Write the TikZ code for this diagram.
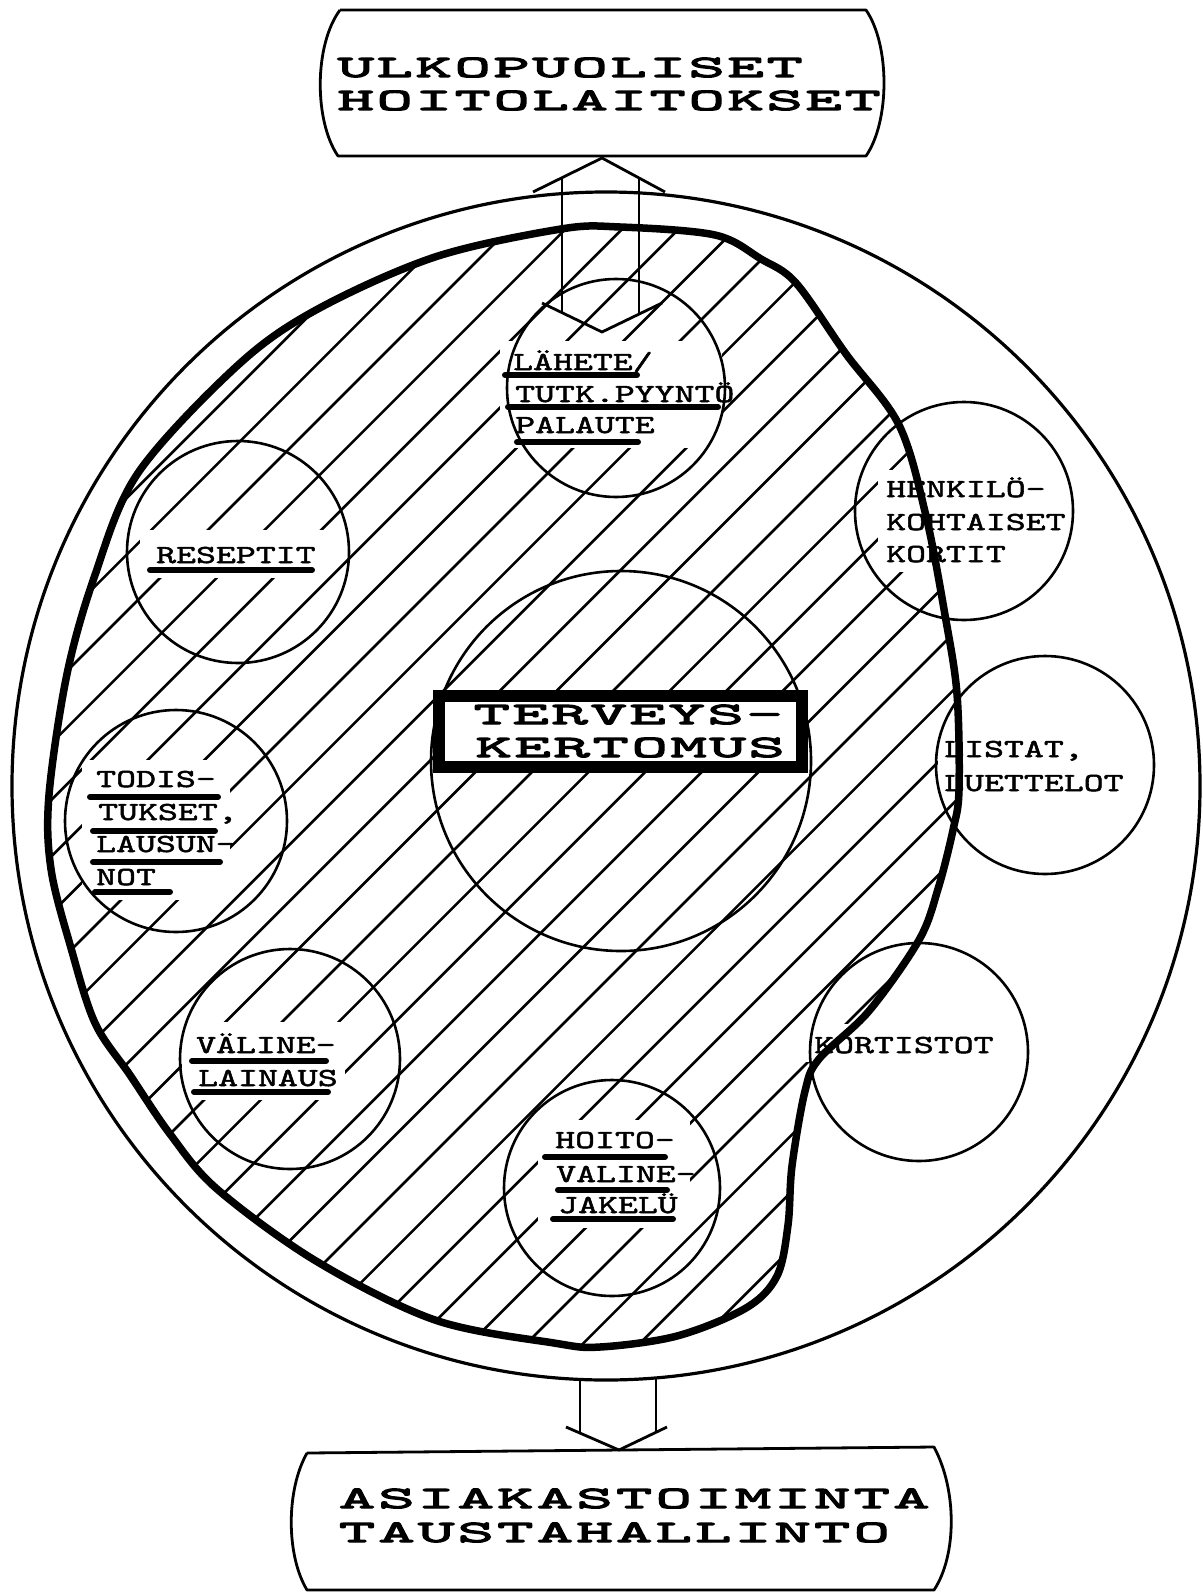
\documentclass[tikz,border=0pt]{standalone}
\usepackage{fontspec}
\newfontfamily\lblfont{lmmono10-regular}[Extension=.otf,FakeStretch=1.46,FakeBold=2]
\newfontfamily\ttlfont{lmmono10-regular}[Extension=.otf,FakeStretch=2.25,FakeBold=4]
\ExplSyntaxOn
\NewDocumentCommand\spread{mm}{\tl_map_inline:nn{#2}{\makebox[#1][c]{##1}}}
\ExplSyntaxOff
\begin{document}
\begin{tikzpicture}[x=1pt,y=-1pt,
  thinline/.style={line width=2.8pt},
  hatch/.style={line width=2.6pt},
  smallcirc/.style={circle,draw,line width=2.6pt,inner sep=0pt},
  bigcirc/.style={circle,draw,line width=3.2pt,inner sep=0pt},
  lbl/.style={font=\lblfont\fontsize{26}{32}\selectfont,inner sep=0pt,anchor=base west},
  ttl/.style={font=\ttlfont\fontsize{31}{33}\selectfont,inner sep=0pt,anchor=base west},
  uline/.style={line width=6pt,line cap=round},
  blobline/.style={line width=7.5pt,line join=round},
  paste/.style={fill=white}]
\useasboundingbox (0,0) rectangle (1202,1592);
\fill[white] (0,0) rectangle (1202,1592);

% outer circle
\node[bigcirc,minimum size=1188pt] (world) at (606,786) {};

% hatching inside the blob
\begin{scope}
\clip plot[smooth cycle,tension=0.55] coordinates {(49,795) (67,674) (95,575) (138,473) (237,366) (316,310) (435,257) (561,229) (620,227) (715,235) (761,259) (796,283) (846,354) (899,425) (926,516) (945,615) (957,694) (959,790) (953,830) (938,889) (919,940) (869,1011) (819,1059) (805,1091) (792,1166) (788,1225) (777,1276) (746,1308) (677,1336) (600,1347) (554,1343) (435,1320) (316,1261) (217,1189) (170,1134) (130,1075) (95,1023) (71,948) (51,869)};
\foreach \k in {-19,...,10}{
  \pgfmathsetmacro\cc{1587+56.6*\k}
  \draw[hatch] (\cc-1600,1600) -- (\cc+100,-100);
}
\end{scope}

% white paste-up areas behind labels
\fill[paste] (500,341) rectangle (722,448);
\fill[paste] (140,530) rectangle (326,578);
\fill[paste] (82,760) rectangle (230,900);
\fill[paste] (182,1022) rectangle (345,1100);
\fill[paste] (538,1120) rectangle (690,1228);
\fill[paste] (878,470) rectangle (1070,572);
\fill[paste] (938,732) rectangle (1130,800);
\fill[paste] (806,1024) rectangle (1012,1062);

% circles
\node[smallcirc,minimum size=380pt] (core) at (621,761) {};
\node[smallcirc,minimum size=218pt] (lah) at (616,388) {};
\node[smallcirc,minimum size=222pt] (res) at (238,552) {};
\node[smallcirc,minimum size=222pt] (tod) at (176,821) {};
\node[smallcirc,minimum size=220pt] (val) at (290,1059) {};
\node[smallcirc,minimum size=216pt] (hoi) at (612,1188) {};
\node[smallcirc,minimum size=218pt] (kor) at (919,1052) {};
\node[smallcirc,minimum size=218pt] (lis) at (1045,765) {};
\node[smallcirc,minimum size=218pt] (hen) at (964,511) {};

% underlines
\draw[uline] (505,375) -- (637,375);
\draw[uline] (508,407) -- (718,407);
\draw[uline] (517,442) -- (638,442);
\draw[uline] (150,570) -- (312,570);
\draw[uline] (90,797) -- (218,797);
\draw[uline] (93,831) -- (215,831);
\draw[uline] (93,862) -- (220,862);
\draw[uline] (95,892) -- (170,892);
\draw[uline] (192,1061) -- (326,1061);
\draw[uline] (194,1092) -- (328,1092);
\draw[uline] (545,1157) -- (665,1157);
\draw[uline] (558,1190) -- (667,1190);
\draw[uline] (553,1219) -- (673,1219);

% small labels
\node[lbl] (l1) at (513,370) {LÄHETE/};
\node[lbl] (l2) at (515,402) {TUTK.PYYNTÖ};
\node[lbl] (l3) at (515,433) {PALAUTE};
\node[lbl] (r1) at (156,563) {RESEPTIT};
\node[lbl] (d1) at (96,787) {TODIS-};
\node[lbl] (d2) at (98,820) {TUKSET,};
\node[lbl] (d3) at (96,852) {LAUSUN-};
\node[lbl] (d4) at (96,885) {NOT};
\node[lbl] (v1) at (196,1053) {VÄLINE-};
\node[lbl] (v2) at (198,1086) {LAINAUS};
\node[lbl] (h1) at (555,1148) {HOITO-};
\node[lbl] (h2) at (556,1182) {VALINE-};
\node[lbl] (h3) at (558,1213) {JAKELÜ};
\node[lbl] (p1) at (886,497) {HENKILÖ-};
\node[lbl] (p2) at (886,530) {KOHTAISET};
\node[lbl] (p3) at (886,562) {KORTIT};
\node[lbl] (s1) at (944,757) {LISTAT,};
\node[lbl] (s2) at (944,791) {LUETTELOT};
\node[lbl] (k1) at (814,1053) {KORTISTOT};

% central record box
\node[draw,line width=12pt,fill=white,minimum width=363pt,minimum height=71pt,inner sep=0pt] (tk) at (620.5,731.5) {};
\node[ttl] (tk1) at (472,724) {\spread{39pt}{TERVEYS-}};
\node[ttl] (tk2) at (474,757) {\spread{39pt}{KERTOMUS}};

% blob outline
\draw[blobline] plot[smooth cycle,tension=0.55] coordinates {(49,795) (67,674) (95,575) (138,473) (237,366) (316,310) (435,257) (561,229) (620,227) (715,235) (761,259) (796,283) (846,354) (899,425) (926,516) (945,615) (957,694) (959,790) (953,830) (938,889) (919,940) (869,1011) (819,1059) (805,1091) (792,1166) (788,1225) (777,1276) (746,1308) (677,1336) (600,1347) (554,1343) (435,1320) (316,1261) (217,1189) (170,1134) (130,1075) (95,1023) (71,948) (51,869)};

% top box
\draw[thinline,line join=round] (340,10) -- (866,10) .. controls (890,45) and (890,121) .. (866,156) -- (338,156) .. controls (314,121) and (314,45) .. (340,10);
\node[ttl] (u1) at (336,77) {\spread{39pt}{ULKOPUOLISET}};
\node[ttl] (u2) at (336,110) {\spread{39pt}{HOITOLAITOKSET}};

% bottom box
\draw[thinline,line join=round] (307,1453) -- (934,1447) .. controls (957,1490) and (957,1555) .. (934,1590) -- (307,1590) .. controls (286,1555) and (286,1490) .. (307,1453);
\node[ttl] (b1) at (337,1508) {\spread{39.6pt}{ASIAKASTOIMINTA}};
\node[ttl] (b2) at (337,1542) {\spread{39.6pt}{TAUSTAHALLINTO}};

% top double block arrow
\coordinate (uptip) at (602,158);
\coordinate (upnotch) at (602,332);
\draw[thinline,line join=round] (533,192) -- (uptip) -- (665,192);
\draw[thinline] (562,178) -- (562,312);
\draw[thinline] (639,178) -- (639,313);
\draw[thinline,line join=round] (542,303) -- (upnotch) -- (662,303);

% bottom block arrow
\coordinate (downtip) at (619,1450);
\draw[thinline,line join=round] (566,1427) -- (downtip) -- (667,1427);
\draw[thinline] (580,1378) -- (580,1433);
\draw[thinline] (656,1378) -- (656,1432);
\end{tikzpicture}
\end{document}
